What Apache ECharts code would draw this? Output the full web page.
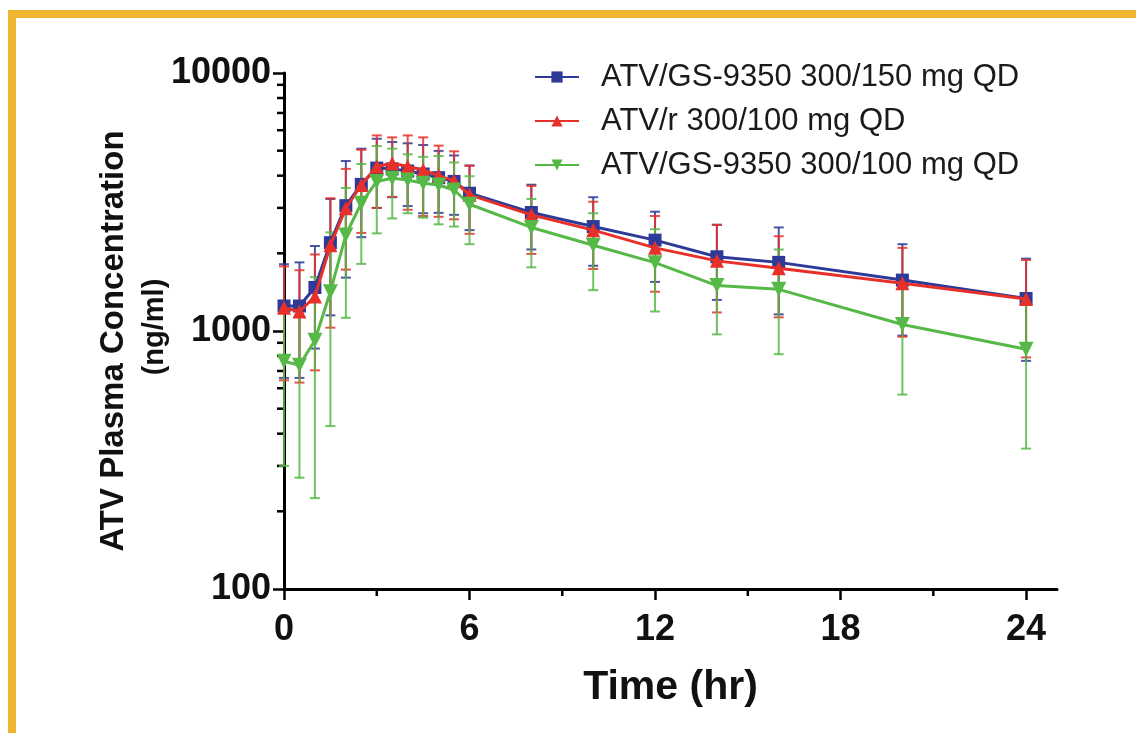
<!DOCTYPE html>
<html>
<head>
<meta charset="utf-8">
<script src="https://cdn.jsdelivr.net/npm/echarts@6/dist/echarts.min.js"></script>
<style>
  html, body { margin: 0; padding: 0; background: #fff; }
  #wrap { position: relative; width: 1136px; height: 733px; overflow: hidden; background: #fff; }
  #frame { position: absolute; left: 8px; top: 10px; width: 1200px; height: 800px;
           border-left: 8px solid #EEB530; border-top: 8px solid #EEB530; box-sizing: border-box; }
  #chart { position: absolute; left: 0; top: 0; width: 1136px; height: 733px; }
</style>
</head>
<body>
<div id="wrap">
  <div id="frame"></div>
  <div id="chart"></div>
</div>
<script>
// ---- data ----
const times = [0, 0.5, 1, 1.5, 2, 2.5, 3, 3.5, 4, 4.5, 5, 5.5, 6, 8, 10, 12, 14, 16, 20, 24];

const seriesNames = ['ATV/GS-9350 300/150 mg QD', 'ATV/r 300/100 mg QD', 'ATV/GS-9350 300/100 mg QD'];

const gs150Mean = [1250, 1250, 1475, 2200, 3060, 3700, 4280, 4250, 4170, 4060, 3930, 3800, 3420, 2880, 2540, 2250, 1940, 1845, 1575, 1337];
const gs150High = [1815, 1845, 2135, 3250, 4560, 5090, 5560, 5400, 5340, 5260, 4990, 4790, 4380, 3690, 3300, 2900, 2580, 2520, 2170, 1908];
const gs150Low  = [658, 658, 855, 1150, 1610, 2310, 3000, 3300, 3050, 2860, 2870, 2820, 2460, 2070, 1790, 1550, 1320, 1160, 960, 766];

const rtvMean = [1230, 1190, 1360, 2150, 2990, 3680, 4340, 4470, 4340, 4210, 4000, 3820, 3370, 2820, 2460, 2100, 1870, 1750, 1530, 1330];
const rtvHigh = [1780, 1720, 1980, 3270, 4250, 5040, 5730, 5630, 5730, 5630, 5230, 4970, 4370, 3650, 3170, 2790, 2580, 2330, 2100, 1885];
const rtvLow  = [644, 631, 704, 1030, 1730, 2400, 3000, 3310, 2950, 2790, 2770, 2710, 2380, 1990, 1740, 1420, 1180, 1130, 950, 790];

const gs100Mean = [763, 737, 921, 1420, 2355, 3130, 3800, 3910, 3850, 3740, 3680, 3520, 3100, 2520, 2150, 1840, 1500, 1450, 1060, 850];
const gs100High = [1226, 1204, 1617, 2412, 3585, 4440, 5210, 5090, 4840, 4730, 4770, 4500, 3980, 3250, 2860, 2480, 2025, 2070, 1553, 1350];
const gs100Low  = [300, 270, 225, 428, 1125, 1820, 2390, 2730, 2860, 2750, 2590, 2540, 2170, 1765, 1440, 1190, 970, 813, 567, 350];

const xTickLabels = [0, 6, 12, 18, 24];
const xMinorTicks = [3, 9, 15, 21];
const yMinorTicks = [200, 300, 400, 500, 600, 700, 800, 900, 2000, 3000, 4000, 5000, 6000, 7000, 8000, 9000];

// ---- styles ----
const colors = ['#2E3A98', '#E8302A', '#56B947'];
const FONT = '"Liberation Sans", Arial, Helvetica, sans-serif';

function zip(a, b) { return a.map((v, i) => [v, b[i]]); }
function zip3(a, b, c) { return a.map((v, i) => [v, b[i], c[i]]); }

function errRenderer(color) {
  return function (params, api) {
    const x = api.value(0), lo = api.value(1), hi = api.value(2);
    const pl = api.coord([x, lo]);
    const ph = api.coord([x, hi]);
    const w = 5;
    const st = { stroke: color, lineWidth: 2, opacity: 0.85 };
    return {
      type: 'group',
      children: [
        { type: 'line', shape: { x1: pl[0], y1: pl[1], x2: ph[0], y2: ph[1] }, style: st },
        { type: 'line', shape: { x1: pl[0] - w, y1: pl[1], x2: pl[0] + w, y2: pl[1] }, style: st },
        { type: 'line', shape: { x1: ph[0] - w, y1: ph[1], x2: ph[0] + w, y2: ph[1] }, style: st }
      ]
    };
  };
}

const chart = echarts.init(document.getElementById('chart'), null, { renderer: 'canvas' });

const option = {
  backgroundColor: 'transparent',
  animation: false,
  grid: { left: 284, top: 73, width: 773, height: 516, containLabel: false },
  legend: {
    orient: 'vertical',
    left: 534,
    top: 60,
    padding: 0,
    itemGap: 10,
    itemWidth: 44,
    itemHeight: 14,
    data: seriesNames,
    textStyle: { fontFamily: FONT, fontSize: 31, color: '#1a1a1a', lineHeight: 34, padding: [0, 0, 0, 17] }
  },
  xAxis: {
    type: 'value',
    min: 0,
    max: 25,
    interval: 6,
    name: 'Time (hr)',
    nameLocation: 'middle',
    nameGap: 78,
    nameTextStyle: { fontFamily: FONT, fontSize: 41, fontWeight: 'bold', color: '#111' },
    axisLine: { show: true, onZero: false, lineStyle: { color: '#000', width: 3 } },
    axisTick: { show: true, inside: false, length: 11, customValues: xTickLabels, lineStyle: { color: '#000', width: 2.5 } },
    axisLabel: { show: true, margin: 23, customValues: xTickLabels, fontFamily: FONT, fontSize: 36, fontWeight: 'bold', color: '#111' },
    splitLine: { show: false },
    minorTick: { show: false }
  },
  yAxis: {
    type: 'log',
    logBase: 10,
    min: 100,
    max: 10000,
    interval: 1,
    name: '{a|ATV Plasma Concentration}\n{b|(ng/ml)}',
    nameLocation: 'middle',
    nameRotate: 90,
    nameGap: 109,
    nameMoveOverlap: false,
    nameTextStyle: {
      fontFamily: FONT, fontWeight: 'bold', color: '#111', align: 'center',
      rich: {
        a: { fontFamily: FONT, fontSize: 33, fontWeight: 'bold', color: '#111', lineHeight: 41, padding: [0, 20, 0, 0] },
        b: { fontFamily: FONT, fontSize: 29, fontWeight: 'bold', color: '#111', lineHeight: 41, padding: [0, 0, 0, 8] }
      }
    },
    axisLine: { show: true, onZero: false, lineStyle: { color: '#000', width: 3 } },
    axisTick: { show: true, inside: false, length: 11, lineStyle: { color: '#000', width: 2.5 } },
    axisLabel: {
      show: true, margin: 13, fontFamily: FONT, fontSize: 36, fontWeight: 'bold', color: '#111',
      formatter: function (v) { return String(Math.round(v)); }
    },
    splitLine: { show: false },
    minorTick: { show: false }
  },
  series: [
    // mean lines
    {
      type: 'line', name: seriesNames[0], z: 3,
      data: zip(times, gs150Mean),
      color: colors[0],
      symbol: 'rect', symbolSize: 13, showAllSymbol: true,
      lineStyle: { width: 3, color: colors[0] },
      itemStyle: { color: colors[0] }
    },
    {
      type: 'line', name: seriesNames[1], z: 4,
      data: zip(times, rtvMean),
      color: colors[1],
      symbol: 'triangle', symbolSize: 14, showAllSymbol: true,
      lineStyle: { width: 3, color: colors[1] },
      itemStyle: { color: colors[1] }
    },
    {
      type: 'line', name: seriesNames[2], z: 5,
      data: zip(times, gs100Mean),
      color: colors[2],
      symbol: 'triangle', symbolRotate: 180, symbolSize: 15, showAllSymbol: true,
      lineStyle: { width: 3, color: colors[2] },
      itemStyle: { color: colors[2] }
    },
    // error bars
    {
      type: 'custom', name: 'err-150', silent: true, z: 2,
      data: zip3(times, gs150Low, gs150High), encode: { x: 0, y: [1, 2] },
      renderItem: errRenderer(colors[0])
    },
    {
      type: 'custom', name: 'err-r', silent: true, z: 2,
      data: zip3(times, rtvLow, rtvHigh), encode: { x: 0, y: [1, 2] },
      renderItem: errRenderer(colors[1])
    },
    {
      type: 'custom', name: 'err-100', silent: true, z: 2,
      data: zip3(times, gs100Low, gs100High), encode: { x: 0, y: [1, 2] },
      renderItem: errRenderer(colors[2])
    },
    // minor ticks on y axis
    {
      type: 'custom', name: 'yMinor', silent: true, clip: false, z: 1,
      data: yMinorTicks.map(v => [0, v]),
      encode: { x: 0, y: 1 },
      renderItem: function (params, api) {
        const p = api.coord([api.value(0), api.value(1)]);
        return { type: 'line', shape: { x1: p[0] - 7, y1: p[1], x2: p[0], y2: p[1] }, style: { stroke: '#000', lineWidth: 2.5 } };
      }
    },
    // minor ticks on x axis
    {
      type: 'custom', name: 'xMinor', silent: true, clip: false, z: 1,
      data: xMinorTicks.map(v => [v, 100]),
      encode: { x: 0, y: 1 },
      renderItem: function (params, api) {
        const p = api.coord([api.value(0), api.value(1)]);
        return { type: 'line', shape: { x1: p[0], y1: p[1], x2: p[0], y2: p[1] + 7 }, style: { stroke: '#000', lineWidth: 2.5 } };
      }
    }
  ]
};

chart.setOption(option);
</script>
</body>
</html>
